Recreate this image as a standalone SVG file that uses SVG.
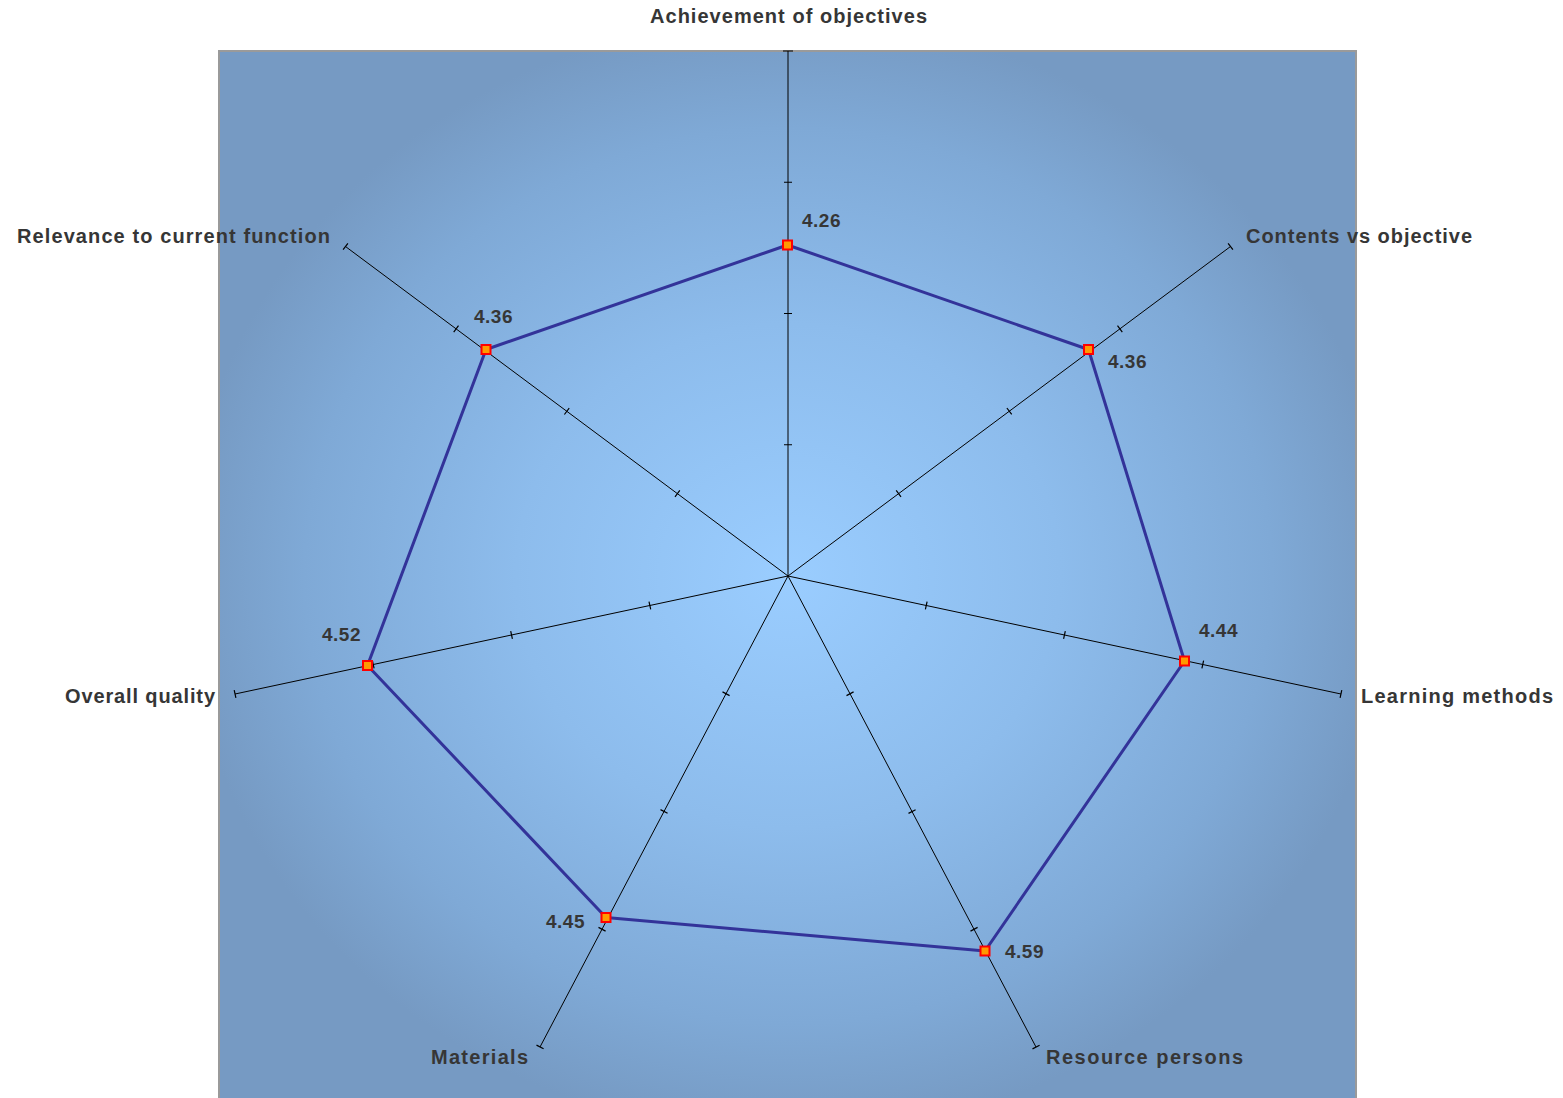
<svg xmlns="http://www.w3.org/2000/svg" width="1563" height="1098" viewBox="0 0 1563 1098">
<defs>
<radialGradient id="bg" gradientUnits="userSpaceOnUse" cx="788" cy="576" r="560" gradientTransform="translate(788 576) scale(1.08 1) translate(-788 -576)">
<stop offset="0" stop-color="#9acdff"/>
<stop offset="0.45" stop-color="#8dbcec"/>
<stop offset="0.8" stop-color="#7fa9d6"/>
<stop offset="1" stop-color="#769ac3"/>
</radialGradient>
</defs>
<style>
.lbl{font-family:"Liberation Sans",Arial,sans-serif;font-weight:bold;font-size:20px;fill:#363636}
.val{font-family:"Liberation Sans",Arial,sans-serif;font-weight:bold;font-size:19px;letter-spacing:0.5px;fill:#363636}
.axis{stroke:#000;stroke-width:1;fill:none}
.tick{stroke:#000;stroke-width:1.2;fill:none}
.series{stroke:#333399;stroke-width:3;fill:none;stroke-linejoin:round}
.mk{fill:#ff9900;stroke:#ff0000;stroke-width:2}
</style>
<rect x="0" y="0" width="1563" height="1098" fill="#ffffff"/>
<rect id="plot" x="219" y="51" width="1137" height="1052" fill="url(#bg)" stroke="#9a9a9a" stroke-width="2"/>
<g id="connectors">
<g id="axes">
<line class="axis" x1="788" y1="576" x2="788" y2="51"/>
<line class="axis" x1="788" y1="576" x2="1230.5" y2="246.5"/>
<line class="axis" x1="788" y1="576" x2="1341" y2="694"/>
<line class="axis" x1="788" y1="576" x2="1036" y2="1047"/>
<line class="axis" x1="788" y1="576" x2="540" y2="1047"/>
<line class="axis" x1="788" y1="576" x2="235" y2="694"/>
<line class="axis" x1="788" y1="576" x2="345.5" y2="246.5"/>
</g>
<g id="ticks">
<path class="tick" d="M784 444.75h8M784 313.5h8M784 182.25h8M783 51h10"/>
<path class="tick" d="M896.2 490.4l4.8 6.4M1006.9 408l4.8 6.4M1117.5 325.7l4.8 6.4M1228.1 243.3l4.8 6.4"/>
<path class="tick" d="M927.1 601.6l-1.7 7.8M1065.3 631.1l-1.7 7.8M1203.6 660.6l-1.7 7.8M1341.8 690.1l-1.7 7.8"/>
<path class="tick" d="M846.5 695.6l7.1 -3.7M908.5 813.4l7.1 -3.7M970.5 931.1l7.1 -3.7M1032.5 1048.9l7.1 -3.7"/>
<path class="tick" d="M722.5 691.9l7.1 3.7M660.5 809.6l7.1 3.7M598.5 927.4l7.1 3.7M536.5 1045.1l7.1 3.7"/>
<path class="tick" d="M649 601.6l1.7 7.8M510.7 631.1l1.7 7.8M372.4 660.6l1.7 7.8M234.2 690.1l1.7 7.8"/>
<path class="tick" d="M675 496.8l4.8 -6.4M564.4 414.5l4.8 -6.4M453.7 332.1l4.8 -6.4M343.1 249.7l4.8 -6.4"/>
</g>
<polygon id="series" class="series" points="787.5,245 1088.5,349.5 1184.5,661 985,951 606,917.5 367.5,665.5 486,349.5"/>
</g>
<g id="markers">
<rect id="m0" class="mk" x="783" y="240.5" width="9" height="9"/>
<rect id="m1" class="mk" x="1084" y="345" width="9" height="9"/>
<rect id="m2" class="mk" x="1180" y="656.5" width="9" height="9"/>
<rect id="m3" class="mk" x="980.5" y="946.5" width="9" height="9"/>
<rect id="m4" class="mk" x="601.5" y="913" width="9" height="9"/>
<rect id="m5" class="mk" x="363" y="661" width="9" height="9"/>
<rect id="m6" class="mk" x="481.5" y="345" width="9" height="9"/>
</g>
<g id="values">
<text class="val" x="802" y="227">4.26</text>
<text class="val" x="1108" y="368">4.36</text>
<text class="val" x="1199" y="637">4.44</text>
<text class="val" x="1005" y="958">4.59</text>
<text class="val" x="546" y="928">4.45</text>
<text class="val" x="322" y="641">4.52</text>
<text class="val" x="474" y="323">4.36</text>
</g>
<g id="labels">
<g id="n0"><text class="lbl" x="650" y="23" textLength="277" lengthAdjust="spacing">Achievement of objectives</text></g>
<g id="n1"><text class="lbl" x="1246" y="243" textLength="226" lengthAdjust="spacing">Contents vs objective</text></g>
<g id="n2"><text class="lbl" x="1361" y="703" textLength="192" lengthAdjust="spacing">Learning methods</text></g>
<g id="n3"><text class="lbl" x="1046" y="1064" textLength="197" lengthAdjust="spacing">Resource persons</text></g>
<g id="n4"><text class="lbl" x="431" y="1064" textLength="97" lengthAdjust="spacing">Materials</text></g>
<g id="n5"><text class="lbl" x="65" y="703" textLength="150" lengthAdjust="spacing">Overall quality</text></g>
<g id="n6"><text class="lbl" x="17" y="243" textLength="313" lengthAdjust="spacing">Relevance to current function</text></g>
</g>
</svg>
